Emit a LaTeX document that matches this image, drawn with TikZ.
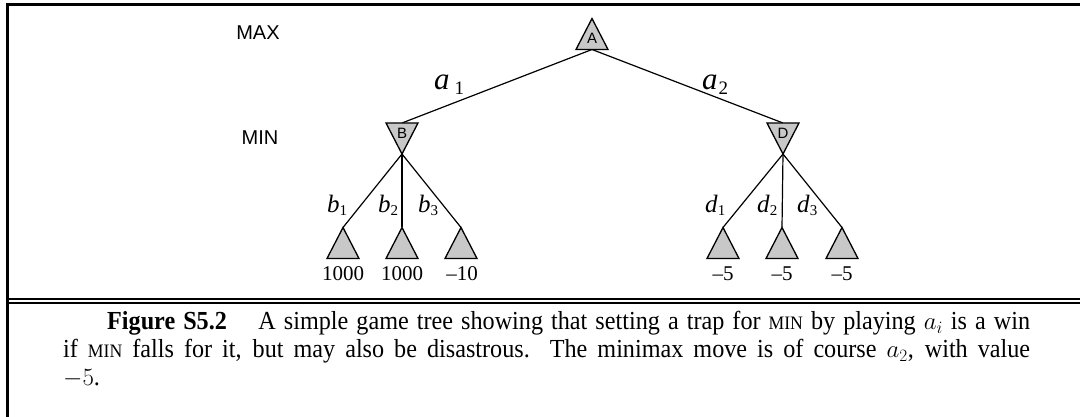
\documentclass[tikz,border=0pt]{standalone}
\usepackage{fontspec}
\setmainfont{Liberation Serif}
\newfontfamily\arialf{Liberation Sans}
\newfontfamily\capfont{Liberation Serif}[FakeStretch=0.93]
\definecolor{tgray}{RGB}{200,200,200}
\newcommand{\fsc}[1]{{\fontsize{19}{19}\selectfont #1}}
\begin{document}
\begin{tikzpicture}[x=1pt,y=-1pt,
  tri/.style={minimum width=32pt, minimum height=31pt, inner sep=0pt, outer sep=0pt},
  trifill/.style={draw=black, fill=tgray, line width=1.3pt, line join=miter},
  edge/.style={draw=black, line width=1.2pt},
  rule/.style={draw=black, line width=2.2pt},
  plab/.style={font=\arialf\fontsize{20}{20}\selectfont, inner sep=0pt},
  nlab/.style={font=\arialf\fontsize{15}{15}\selectfont, inner sep=0pt},
  alab/.style={font=\fontsize{31}{31}\selectfont, inner sep=0pt, anchor=base west},
  blab/.style={font=\fontsize{25}{25}\selectfont, inner sep=0pt, anchor=base west},
  vlab/.style={font=\fontsize{21}{21}\selectfont, inner sep=0pt, anchor=base}
]
\useasboundingbox (0,0) rectangle (1080,417);
% frame
\draw[line width=2.6pt] (1082,4.5) -- (7.3,4.5) -- (7.3,419);
\draw[rule] (7.3,299.3) -- (1082,299.3);
\draw[rule] (7.3,302.8) -- (1082,302.8);

% player labels
\node[plab] (max) at (258,33) {MAX};
\node[plab] (min) at (260,138) {MIN};

% tree nodes (placeholders)
\node[tri] (A) at (592,34) {};
\node[tri] (B) at (402,138.5) {};
\node[tri] (D) at (783,138.5) {};
\node[tri] (b1) at (343,243) {};
\node[tri] (b2) at (402,243) {};
\node[tri] (b3) at (461,243) {};
\node[tri] (d1) at (723,243) {};
\node[tri] (d2) at (782,243) {};
\node[tri] (d3) at (842,243) {};

% connectors
\draw[edge] (A.south) -- (B.north);
\draw[edge] (A.south) -- (D.north);
\foreach \c in {b1,b2,b3} \draw[edge] (B.south) -- (\c.north);
\foreach \c in {d1,d2,d3} \draw[edge] (D.south) -- (\c.north);

% triangles
\filldraw[trifill] (A.south west) -- (A.north) -- (A.south east) -- cycle;
\filldraw[trifill] (B.north west) -- (B.south) -- (B.north east) -- cycle;
\filldraw[trifill] (D.north west) -- (D.south) -- (D.north east) -- cycle;
\foreach \c in {b1,b2,b3,d1,d2,d3}
  \filldraw[trifill] (\c.south west) -- (\c.north) -- (\c.south east) -- cycle;

% node letters
\node[nlab] (A-t) at (592,38) {A};
\node[nlab] (B-t) at (402,133) {B};
\node[nlab] (D-t) at (783,133) {D};

% edge labels
\node[alab] (la1) at (434,90) {\textit{a}\hspace{5pt}\raisebox{-5pt}{\fontsize{19}{19}\selectfont 1}};
\node[alab] (la2) at (702,90) {\textit{a}\hspace{1pt}\raisebox{-5pt}{\fontsize{19}{19}\selectfont 2}};
\node[blab] (lb1) at (327,212) {\textit{b}\raisebox{-3pt}{\fontsize{15}{15}\selectfont 1}};
\node[blab] (lb2) at (378,212) {\textit{b}\raisebox{-3pt}{\fontsize{15}{15}\selectfont 2}};
\node[blab] (lb3) at (418,212) {\textit{b}\raisebox{-3pt}{\fontsize{15}{15}\selectfont 3}};
\node[blab] (ld1) at (705,212) {\textit{d}\raisebox{-3pt}{\fontsize{15}{15}\selectfont 1}};
\node[blab] (ld2) at (757,212) {\textit{d}\raisebox{-3pt}{\fontsize{15}{15}\selectfont 2}};
\node[blab] (ld3) at (797,212) {\textit{d}\raisebox{-3pt}{\fontsize{15}{15}\selectfont 3}};

% leaf values
\node[vlab] (v1) at (343,280) {1000};
\node[vlab] (v2) at (402,280) {1000};
\node[vlab] (v3) at (462,280) {–10};
\node[vlab] (v4) at (723,280) {–5};
\node[vlab] (v5) at (782,280) {–5};
\node[vlab] (v6) at (842,280) {–5};

% caption
\node[anchor=north west, inner sep=0pt, text width=967pt, align=justify,
      font=\capfont\fontsize{26}{27.8}\selectfont] (cap) at (63,311)
 {\hspace*{44pt}\textbf{Figure S5.2}\hspace{0.9em} A simple game tree showing that setting a trap for \fsc{MIN} by playing $a_i$ is a win\linebreak
  if \fsc{MIN} falls for it, but may also be disastrous. The minimax move is of course $a_2$, with value\linebreak
  $-5$.};
\end{tikzpicture}
\end{document}
